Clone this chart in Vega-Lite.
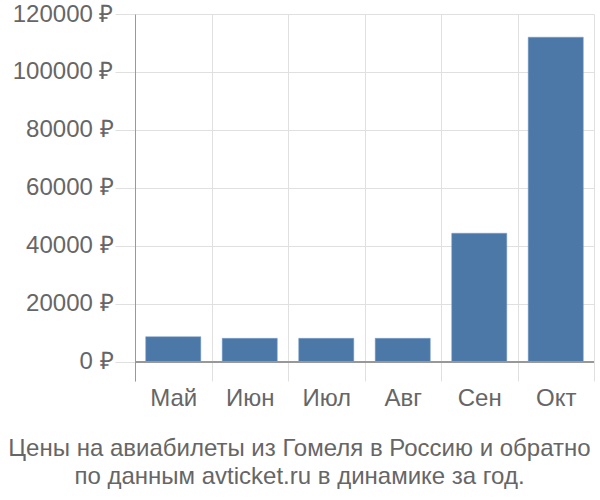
{
  "$schema": "https://vega.github.io/schema/vega-lite/v6.json",
  "autosize": "none",
  "width": 459,
  "height": 367,
  "padding": {"left": 135, "top": 14, "right": 6, "bottom": 119},
  "background": "white",
  "config": {
    "font": "Liberation Sans",
    "view": {"stroke": null}
  },
  "title": {
    "text": ["Цены на авиабилеты из Гомеля в Россию и обратно", "по данным avticket.ru в динамике за год."],
    "orient": "bottom",
    "anchor": "middle",
    "frame": "bounds",
    "fontSize": 24,
    "fontWeight": "normal",
    "color": "#666666",
    "lineHeight": 28,
    "offset": 27,
    "dx": -4,
    "font": "Liberation Sans"
  },
  "data": {
    "values": [
      {"month": "Май", "price": 8720},
      {"month": "Июн", "price": 8170},
      {"month": "Июл", "price": 8170},
      {"month": "Авг", "price": 8170},
      {"month": "Сен", "price": 44400},
      {"month": "Окт", "price": 112000}
    ]
  },
  "layer": [
    {
      "mark": {"type": "bar", "color": "#4c78a8", "stroke": "#7a9cc4", "strokeWidth": 0.5, "width": {"band": 0.72}},
      "encoding": {
        "x": {
          "field": "month",
          "type": "nominal",
          "sort": null,
          "scale": {"paddingInner": 0, "paddingOuter": 0},
          "axis": {
            "title": null,
            "labelAngle": 0,
            "labelFontSize": 24,
            "labelColor": "#666666",
            "labelPadding": 5,
            "ticks": false,
            "domain": false,
            "grid": true,
            "gridColor": "#e0e0e0",
            "tickBand": "extent"
          }
        },
        "y": {
          "field": "price",
          "type": "quantitative",
          "scale": {"domain": [-6552, 120000], "nice": false, "zero": false},
          "axis": {
            "title": null,
            "values": [0, 20000, 40000, 60000, 80000, 100000, 120000],
            "labelExpr": "datum.value + ' ₽'",
            "labelFontSize": 24,
            "labelColor": "#666666",
            "labelPadding": 2,
            "tickSize": 20,
            "tickColor": "#e0e0e0",
            "domainColor": "#999999",
            "gridColor": "#e0e0e0"
          }
        }
      }
    },
    {
      "mark": {"type": "rule", "color": "#999999", "strokeWidth": 1.5},
      "encoding": {"y": {"datum": 0}}
    }
  ]
}
